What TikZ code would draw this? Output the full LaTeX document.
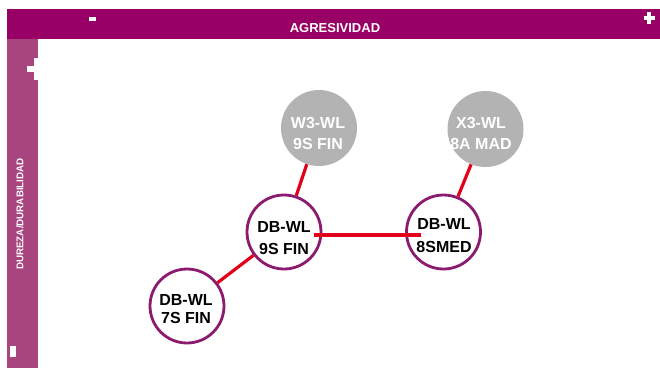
\documentclass[tikz,border=0pt]{standalone}
\usepackage{fontspec}
\setmainfont{Liberation Sans}
\definecolor{topbar}{HTML}{990066}
\definecolor{sidebar}{HTML}{A8447E}
\definecolor{ring}{HTML}{8C1A6E}
\definecolor{link}{HTML}{E2001A}
\definecolor{greyfill}{HTML}{B3B3B3}
\begin{document}
\begin{tikzpicture}[x=1pt,y=-1pt,
  prod/.style={circle,draw=ring,line width=2.8pt,fill=white,minimum size=74pt,inner sep=0pt,text=black,align=center,font=\bfseries\fontsize{16}{22}\selectfont},
  comp/.style={circle,fill=greyfill,minimum size=76pt,inner sep=0pt},
  comptext/.style={text=white,align=center,font=\bfseries\fontsize{16}{21}\selectfont,inner sep=0pt},
  conn/.style={draw=link,line width=3.2pt},
  bartext/.style={text=white,font=\bfseries},
  mark sign/.style={fill=white},
]
\useasboundingbox (0,0) rectangle (660,368);
\fill[white] (0,0) rectangle (660,368);
% bars
\fill[topbar] (7,9) rectangle (660,39);
\fill[sidebar] (7,39) rectangle (37.5,368);
\node[bartext,font=\bfseries\fontsize{13}{15}\selectfont] (agr) at (335,28) {AGRESIVIDAD};
\node[bartext,rotate=90,font=\bfseries\fontsize{9.8}{11}\selectfont] (dur) at (20,214) {DUREZA/DURABILIDAD};
% minus / plus signs
\fill[mark sign] (88.5,16.5) rectangle (95.5,21);
\fill[mark sign] (643.5,15.5) rectangle (654.5,19.5);
\fill[mark sign] (647,11.5) rectangle (651,23.5);
\fill[mark sign] (27,66) rectangle (38,72);
\fill[mark sign] (33.5,58) rectangle (38,80);
\fill[mark sign] (10,346) rectangle (16,357);
% competitor circles
\node[comp] (w3) at (319,128) {};
\node[comptext] (w3t) at (318,133) {W3-WL\\9S FIN};
\node[comp] (x3) at (485.5,129) {};
\node[comptext] (x3t) at (481,133) {X3-WL\\8A MAD};
% product circles
\node[prod] (db9) at (284,232) {};
\node[prod] (db8) at (443.5,232) {};
\node[prod] (db7) at (187,306) {};
% connectors
\draw[conn] (w3) -- (db9);
\draw[conn] (x3) -- (db8);
\draw[conn] (db7) -- (db9);
% labels
\node[align=center,inner sep=0pt,font=\bfseries\fontsize{16}{22}\selectfont] (db9t) at (284,238) {DB-WL\\9S FIN};
\node[align=center,inner sep=0pt,font=\bfseries\fontsize{16}{23}\selectfont] (db8t) at (444,236) {DB-WL\\8SMED};
\node[align=center,inner sep=0pt,font=\bfseries\fontsize{16}{18}\selectfont] (db7t) at (186,309) {DB-WL\\7S FIN};
\coordinate (hl) at (314,235);
\coordinate (hr) at (421,235);
\draw[conn] (hl) -- (hr);
\end{tikzpicture}
\end{document}
